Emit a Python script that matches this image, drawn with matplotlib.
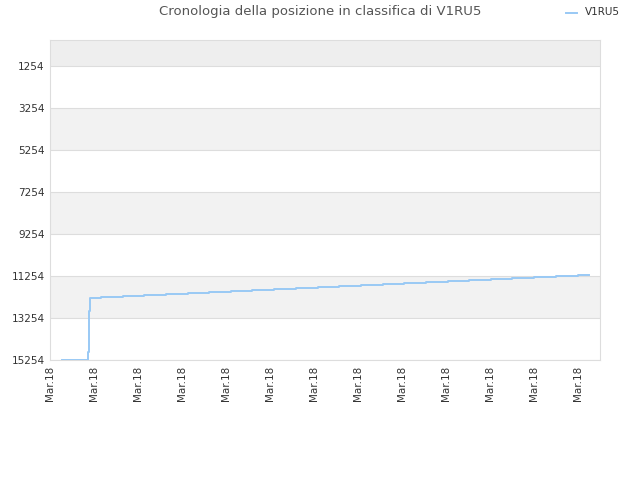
import matplotlib
matplotlib.use("Agg")
import matplotlib.pyplot as plt

# x in tick units (one tick = one "Mar.18" label), y = ranking position
tick_labels = ["Mar.18"] * 13
y_ticks = [1254, 3254, 5254, 7254, 9254, 11254, 13254, 15254]

times = [0.27, 0.86, 0.875, 0.89, 0.91,
         1.16, 1.65, 2.14, 2.63, 3.13, 3.62, 4.11, 4.60, 5.10, 5.59, 6.08, 6.57,
         7.07, 7.56, 8.05, 8.54, 9.04, 9.53, 10.02, 10.51, 11.01, 11.50, 11.99, 12.25]
ranks = [15254, 14850, 14100, 12900, 12290,
         12242, 12194, 12146, 12098, 12050, 12002, 11954, 11906, 11858, 11810, 11762,
         11714, 11666, 11618, 11570, 11522, 11474, 11426, 11378, 11330, 11282, 11234,
         11192, 11192]

LINE_COLOR = "#99c9f5"

fig = plt.figure(figsize=(6.4, 4.8), dpi=100)
ax = fig.add_axes([50 / 640, 120 / 480, 550 / 640, 320 / 480])

# alternating background bands
ax.axhspan(0, y_ticks[0], color="#eeeeee", zorder=0, lw=0)
for i in range(len(y_ticks) - 1):
    if i % 2 == 1:
        ax.axhspan(y_ticks[i], y_ticks[i + 1], color="#f2f2f2", zorder=0, lw=0)
for yv in y_ticks:
    ax.axhline(yv, color="#dddddd", lw=0.8, zorder=1)

ax.plot(times, ranks, drawstyle="steps-post", color=LINE_COLOR, lw=1.4, zorder=3)

ax.set_xlim(0, 12.5)
ax.set_ylim(15254, 0)
ax.set_xticks(range(len(tick_labels)))
ax.set_xticklabels(tick_labels, rotation=90, fontsize=7.5, color="#333333")
ax.set_yticks(y_ticks)
ax.set_yticklabels([str(v) for v in y_ticks], fontsize=7.5, color="#333333")
ax.tick_params(length=0, pad=4)
for s in ax.spines.values():
    s.set_color("#dddddd")

fig.text(0.5, 0.975, "Cronologia della posizione in classifica di V1RU5",
         ha="center", va="center", fontsize=9.5, color="#555555")
fig.lines.append(plt.Line2D([566 / 640, 577 / 640], [1 - 13 / 480, 1 - 13 / 480],
                            transform=fig.transFigure, color=LINE_COLOR, lw=1.4))
fig.text(585 / 640, 1 - 12 / 480, "V1RU5", ha="left", va="center",
         fontsize=7.5, color="#333333")

fig.savefig("out.png", dpi=100)
